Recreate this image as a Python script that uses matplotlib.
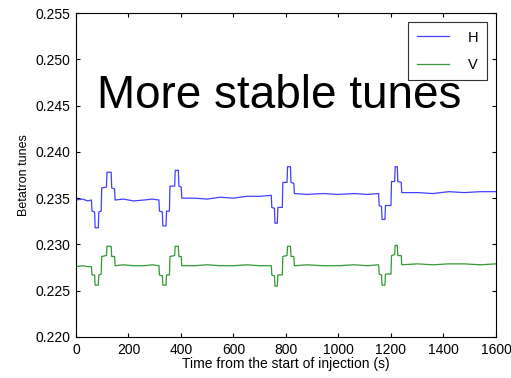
import numpy as np
from matplotlib import pyplot

pyplot.rcParams['font.family'] = ['Liberation Sans', 'DejaVu Sans']

# time (s); each event row: l1, l1, min, min, l1, l1, l2, l2, peak, peak, l2, l2, base
t_s = [0, 25, 45, 59,
       61, 71, 73, 85, 87, 96, 98, 116, 118, 134, 136, 147, 149,
       180, 220, 260, 290, 316,
       318, 329, 331, 343, 345, 356, 358, 376, 378, 390, 392, 401, 403,
       450, 500, 550, 600, 650, 700, 744,
       746, 756, 758, 767, 769, 786, 788, 804, 806, 817, 819, 830, 832,
       880, 940, 1000, 1060, 1110, 1153,
       1155, 1164, 1166, 1177, 1179, 1200, 1202, 1214, 1216, 1224, 1226, 1239, 1241,
       1300, 1360, 1420, 1480, 1540, 1600]

tune_h = [0.2348, 0.2349, 0.2347, 0.2348,
          0.2336, 0.2335, 0.2318, 0.2318, 0.2335, 0.2336, 0.2361, 0.2362, 0.2378, 0.2378, 0.2361, 0.2360, 0.2348,
          0.2349, 0.2347, 0.2348, 0.2349, 0.2348,
          0.2336, 0.2335, 0.2320, 0.2320, 0.2336, 0.2336, 0.2363, 0.2363, 0.2380, 0.2380, 0.2363, 0.2362, 0.2350,
          0.2350, 0.2349, 0.2351, 0.2350, 0.2352, 0.2352, 0.2353,
          0.2340, 0.2339, 0.2323, 0.2323, 0.2340, 0.2340, 0.2367, 0.2367, 0.2384, 0.2384, 0.2367, 0.2366, 0.2355,
          0.2354, 0.2355, 0.2354, 0.2355, 0.2354, 0.2355,
          0.2342, 0.2341, 0.2327, 0.2327, 0.2342, 0.2342, 0.2368, 0.2368, 0.2384, 0.2384, 0.2368, 0.2367, 0.2356,
          0.2356, 0.2355, 0.2357, 0.2356, 0.2357, 0.2357]

tune_v = [0.2276, 0.2277, 0.2276, 0.2276,
          0.2267, 0.2267, 0.2256, 0.2256, 0.2267, 0.2268, 0.2287, 0.2288, 0.2298, 0.2298, 0.2287, 0.2287, 0.2277,
          0.2278, 0.2277, 0.2277, 0.2278, 0.2277,
          0.2267, 0.2266, 0.2256, 0.2256, 0.2267, 0.2267, 0.2287, 0.2288, 0.2298, 0.2298, 0.2287, 0.2287, 0.2277,
          0.2277, 0.2278, 0.2277, 0.2277, 0.2278, 0.2277, 0.2277,
          0.2267, 0.2266, 0.2255, 0.2255, 0.2267, 0.2267, 0.2287, 0.2288, 0.2298, 0.2298, 0.2287, 0.2287, 0.2277,
          0.2278, 0.2277, 0.2277, 0.2278, 0.2277, 0.2278,
          0.2268, 0.2267, 0.2256, 0.2256, 0.2268, 0.2268, 0.2288, 0.2289, 0.2299, 0.2299, 0.2288, 0.2288, 0.2278,
          0.2279, 0.2278, 0.2279, 0.2279, 0.2278, 0.2279]

xticks = [0, 200, 400, 600, 800, 1000, 1200, 1400, 1600]
yticks = [0.220, 0.225, 0.230, 0.235, 0.240, 0.245, 0.250, 0.255]


pyplot.close('all')
fig = pyplot.figure(figsize=(5.11, 3.78), dpi=100)
ax = pyplot.axes([0.1487, 0.1085, 0.8219, 0.857])

ax.plot(t_s, tune_h, color='#4040ff', lw=0.9, label='H')
ax.plot(t_s, tune_v, color='#339933', lw=0.9, label='V')

ax.set_xlim(0, 1600)
ax.set_ylim(0.220, 0.255)
ax.set_xticks(xticks)
ax.set_yticks(yticks)
ax.set_yticklabels(['%.3f' % y for y in yticks])
ax.tick_params(direction='in', top=True, right=True, labelsize=10, length=3, pad=4)
for s in ax.spines.values():
	s.set_linewidth(0.8)

ax.set_xlabel('Time from the start of injection (s)', size=10, labelpad=0)
ax.set_ylabel('Betatron tunes', size=9, labelpad=4)

ax.text(0.05, 0.745, 'More stable tunes', transform=ax.transAxes, size=33, va='center', ha='left')

leg = ax.legend(loc='upper right', fontsize=10.5, fancybox=False, framealpha=1, edgecolor='#333333',
                handlelength=2.2, handletextpad=1.3, labelspacing=0.9, borderpad=0.6,
                borderaxespad=0.6)
leg.get_frame().set_linewidth(0.8)

pyplot.savefig('out.png', dpi=100)
